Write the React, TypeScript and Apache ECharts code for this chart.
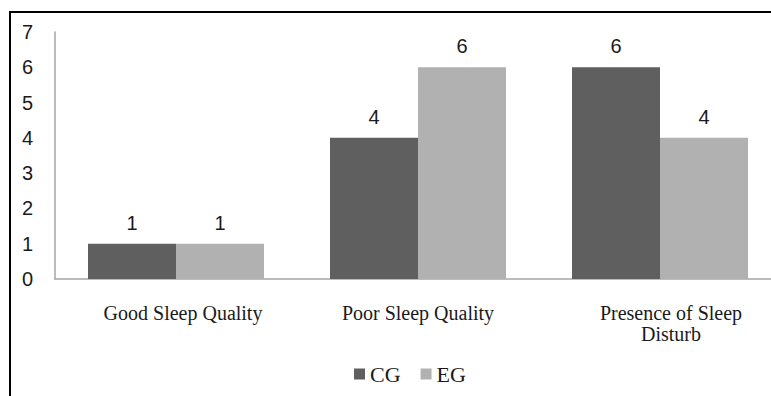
import React, { useEffect, useRef } from "react";
import * as echarts from "echarts";

// Sleep quality counts per group
const categories = ["Good Sleep Quality", "Poor Sleep Quality", "Presence of Sleep\nDisturb"];
const seriesNames = ["CG", "EG"];
const cgValues = [1, 4, 6];
const egValues = [1, 6, 4];
const yTicks = [0, 1, 2, 3, 4, 5, 6, 7];

const SERIF = "'Liberation Serif', 'Times New Roman', serif";
const SANS = "'Liberation Sans', Arial, sans-serif";

// per-category nudge of the axis labels (left padding shifts the centred text right)
const labelShift = [14, 0, 22];

export default function App() {
  const ref = useRef<HTMLDivElement>(null);

  useEffect(() => {
    document.body.style.margin = "0";
    if (!ref.current) return;
    const chart = echarts.init(ref.current, undefined, { renderer: "svg" });

    const labelFont = { fontFamily: SERIF, fontSize: 20, color: "#1a1a1a", lineHeight: 21 };
    const rich: Record<string, any> = {};
    labelShift.forEach((s, i) => {
      rich["c" + i] = { ...labelFont, padding: [0, 0, 0, s] };
    });

    const valueLabel = {
      show: true,
      position: "top" as const,
      distance: 11,
      fontFamily: SANS,
      fontSize: 20,
      color: "#1a1a1a",
    };

    chart.setOption({
      animation: false,
      backgroundColor: "#ffffff",
      graphic: [
        {
          type: "polyline",
          shape: { points: [[10, 396], [10, 12], [771, 12]] },
          style: { stroke: "#000000", lineWidth: 2, fill: "none" },
          silent: true,
        },
      ],
      // the plot runs a little past the right edge of the canvas
      grid: {
        left: 55,
        width: 726,
        top: 32,
        height: 247,
        containLabel: false,
        outerBoundsMode: "none",
      },
      legend: {
        data: seriesNames,
        left: 349,
        top: 358,
        icon: "rect",
        itemWidth: 11,
        itemHeight: 11,
        itemGap: 20,
        textStyle: { fontFamily: SERIF, fontSize: 22, color: "#1a1a1a" },
      },
      xAxis: {
        type: "category",
        data: categories,
        axisLine: { show: true, lineStyle: { color: "#a6a6a6", width: 1.5 } },
        axisTick: { show: false },
        axisLabel: {
          interval: 0,
          margin: 23,
          ...labelFont,
          formatter: (value: string, index: number) =>
            value
              .split("\n")
              .map((line) => `{c${index}|${line}}`)
              .join("\n"),
          rich,
        },
      },
      yAxis: {
        type: "value",
        min: yTicks[0],
        max: yTicks[yTicks.length - 1],
        interval: 1,
        axisLine: { show: true, lineStyle: { color: "#a6a6a6", width: 1.5 } },
        axisTick: { show: false },
        splitLine: { show: false },
        axisLabel: {
          margin: 22,
          fontFamily: SANS,
          fontSize: 20,
          color: "#1a1a1a",
        },
      },
      series: [
        {
          name: seriesNames[0],
          type: "bar",
          data: cgValues,
          barWidth: 88,
          barGap: "0%",
          itemStyle: { color: "#5f5f5f" },
          label: valueLabel,
        },
        {
          name: seriesNames[1],
          type: "bar",
          data: egValues,
          barWidth: 88,
          barGap: "0%",
          itemStyle: { color: "#b1b1b1" },
          label: valueLabel,
        },
      ],
    });

    return () => chart.dispose();
  }, []);

  return <div ref={ref} style={{ width: 771, height: 396 }} />;
}
